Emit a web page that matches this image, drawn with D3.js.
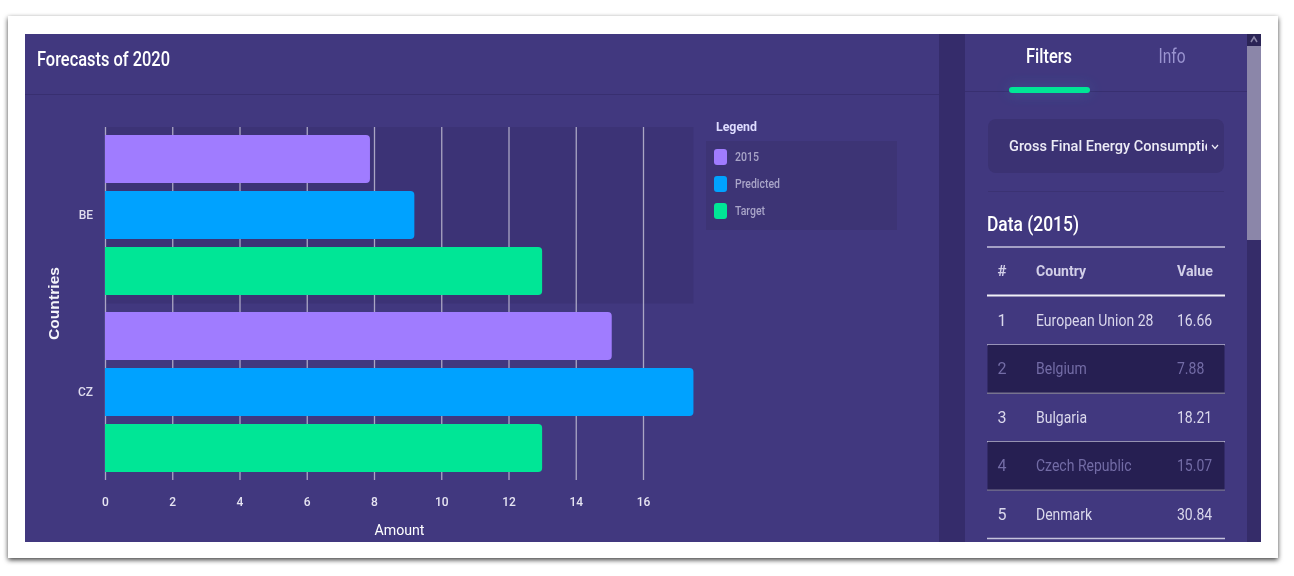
<!DOCTYPE html>
<html>
<head>
<meta charset="utf-8">
<script src="https://cdnjs.cloudflare.com/ajax/libs/d3/7.8.5/d3.min.js"></script>
<style>
  html, body { margin: 0; padding: 0; background: #fff; overflow: hidden; }
  svg { display: block; font-family: Roboto, sans-serif; filter: blur(0.35px); }
</style>
</head>
<body>
<script>
var countries = ['BE', 'CZ'];
var seriesNames = ['2015', 'Predicted', 'Target'];
var seriesColors = ['#a07cff', '#00a2ff', '#00e696'];
var values2015 = [7.88, 15.07];
var valuesPredicted = [9.2, 17.5];
var valuesTarget = [13, 13];
var amountTicks = [0, 2, 4, 6, 8, 10, 12, 14, 16];

var rowNumbers = [1, 2, 3, 4, 5];
var rowCountries = ['European Union 28', 'Belgium', 'Bulgaria', 'Czech Republic', 'Denmark'];
var rowValues = ['16.66', '7.88', '18.21', '15.07', '30.84'];
var rowSelected = [false, true, false, true, false];

var seriesValues = [values2015, valuesPredicted, valuesTarget];
var panelColor = '#41387f';

var svg = d3.select('body').append('svg')
  .attr('width', 1294)
  .attr('height', 576);

//soft shadow around the pasted screenshot frame
var defs = svg.append('defs');
var shadow = defs.append('filter').attr('id', 'frameShadow')
  .attr('x', '-2%').attr('y', '-4%').attr('width', '104%').attr('height', '108%');
shadow.append('feDropShadow')
  .attr('dx', 0).attr('dy', 2).attr('stdDeviation', 2.5)
  .attr('flood-color', '#000').attr('flood-opacity', 0.75);
var glow = defs.append('filter').attr('id', 'tabGlow')
  .attr('x', '-30%').attr('y', '-400%').attr('width', '160%').attr('height', '900%');
glow.append('feGaussianBlur').attr('stdDeviation', 7);

svg.append('rect')
  .attr('x', 8).attr('y', 16).attr('width', 1270).attr('height', 542)
  .attr('fill', '#fff').attr('filter', 'url(#frameShadow)');

svg.append('rect')
  .attr('x', 25).attr('y', 34).attr('width', 1236).attr('height', 508)
  .attr('fill', panelColor);

//writes a text squeezed to a known width (the source font is narrower than ours)
var label = function(parent, str, x, y, size, color, width, anchor, weight){
  var t = parent.append('text')
    .attr('x', x).attr('y', y)
    .attr('font-size', size)
    .attr('fill', color)
    .attr('text-anchor', anchor || 'start')
    .attr('font-weight', weight || 400)
    .text(str);
  if(width){
    t.attr('textLength', width).attr('lengthAdjust', 'spacingAndGlyphs');
  }
  return t;
}

// ---- chart side ----
label(svg, 'Forecasts of 2020', 37, 66, 19.5, '#fff', 133, 'start', 500);
svg.append('line')
  .attr('x1', 25).attr('x2', 939).attr('y1', 94.5).attr('y2', 94.5)
  .attr('stroke', '#382f70');

var x = d3.scaleLinear().domain([0, 16]).range([105, 643]);
var y0 = d3.scaleBand().domain(countries).range([127, 480]);
var y1 = d3.scaleBand().domain(seriesNames)
  .range([0, y0.bandwidth()]).paddingInner(0.145).paddingOuter(0.145);

//darker hover band behind the first country
svg.append('rect')
  .attr('x', x(0)).attr('y', y0('BE'))
  .attr('width', x(17.5) - x(0)).attr('height', y0.bandwidth())
  .attr('fill', '#3c3376');

var xAxis = svg.append('g')
  .attr('transform', 'translate(0,480)')
  .call(d3.axisBottom(x).tickValues(amountTicks).tickSize(-353).tickPadding(17));
xAxis.select('.domain').remove();
xAxis.selectAll('line').attr('stroke', '#aaa6c4').attr('stroke-width', 1.3);
xAxis.selectAll('text')
  .attr('fill', '#e6e4f2').attr('font-size', 12).attr('font-weight', 500).attr('font-family', 'Roboto');

var yAxis = svg.append('g')
  .attr('transform', 'translate(93,0)')
  .call(d3.axisLeft(y0).tickSize(0).tickPadding(0));
yAxis.select('.domain').remove();
yAxis.selectAll('text')
  .attr('fill', '#dfdcee').attr('font-size', 12).attr('font-weight', 500).attr('font-family', 'Roboto');

var bars = [];
countries.forEach(function(country, c){
  seriesNames.forEach(function(name, s){
    bars.push({country: country, name: name, value: seriesValues[s][c], color: seriesColors[s]});
  });
});

//square on the left, rounded on the right
var barPath = function(d){
  var top = Math.round(y0(d.country) + y1(d.name));
  var h = Math.round(y1.bandwidth());
  var r = 4;
  var p = d3.path();
  p.moveTo(x(0), top);
  p.lineTo(x(d.value) - r, top);
  p.quadraticCurveTo(x(d.value), top, x(d.value), top + r);
  p.lineTo(x(d.value), top + h - r);
  p.quadraticCurveTo(x(d.value), top + h, x(d.value) - r, top + h);
  p.lineTo(x(0), top + h);
  p.closePath();
  return p.toString();
}

svg.selectAll('.bar')
  .data(bars)
  .enter()
  .append('path')
    .attr('class', 'bar')
    .attr('d', barPath)
    .attr('fill', function(d){ return d.color; });

label(svg, 'Amount', 399.5, 535, 15, '#fff', 50, 'middle');
svg.append('text')
  .attr('transform', 'translate(59,303.5) rotate(-90)')
  .attr('text-anchor', 'middle')
  .attr('font-family', 'Liberation Sans')
  .attr('font-size', 15.5)
  .attr('font-weight', 700)
  .attr('fill', '#f4f3fa')
  .attr('textLength', 73)
  .text('Countries');

// ---- legend ----
label(svg, 'Legend', 716, 131, 13.5, '#dedcff', 41, 'start', 700);
svg.append('rect')
  .attr('x', 706).attr('y', 141).attr('width', 191).attr('height', 89)
  .attr('fill', '#3d3475');

var legendY = d3.scalePoint().domain(seriesNames).range([157, 211]);
var legendRows = svg.selectAll('.legend-row')
  .data(seriesNames)
  .enter()
  .append('g')
    .attr('class', 'legend-row')
    .attr('transform', function(d){ return 'translate(0,' + legendY(d) + ')'; });
legendRows.append('rect')
  .attr('x', 714).attr('y', -8).attr('width', 13).attr('height', 16).attr('rx', 3)
  .attr('fill', function(d, i){ return seriesColors[i]; });
legendRows.append('text')
  .attr('x', 735).attr('y', 4)
  .attr('font-size', 12)
  .attr('font-weight', 500)
  .attr('fill', '#a9a5c8')
  .text(function(d){ return d; })
  .attr('textLength', function(d){ return d === '2015' ? 24 : d === 'Predicted' ? 45 : 30; })
  .attr('lengthAdjust', 'spacingAndGlyphs');

// ---- sidebar ----
svg.append('rect')
  .attr('x', 939).attr('y', 34).attr('width', 26).attr('height', 508)
  .attr('fill', '#352c6b');
svg.append('rect')
  .attr('x', 1247).attr('y', 34).attr('width', 14).attr('height', 508)
  .attr('fill', '#352c69');
svg.append('rect')
  .attr('x', 1247).attr('y', 34).attr('width', 14).attr('height', 12)
  .attr('fill', '#2b2456');
svg.append('rect')
  .attr('x', 1247).attr('y', 46).attr('width', 14).attr('height', 194)
  .attr('fill', '#8b86a9');
svg.append('path')
  .attr('d', d3.line()([[1251, 42], [1254, 37], [1257, 42]]))
  .attr('fill', 'none').attr('stroke', '#8b86a9').attr('stroke-width', 1.5);

svg.append('line')
  .attr('x1', 965).attr('x2', 1247).attr('y1', 91.5).attr('y2', 91.5)
  .attr('stroke', '#382f70');
label(svg, 'Filters', 1049, 63, 19.5, '#fff', 46, 'middle', 500);
label(svg, 'Info', 1172, 63, 19.5, '#9a94d0', 27, 'middle');

svg.append('rect')
  .attr('x', 1009).attr('y', 87).attr('width', 81).attr('height', 6).attr('rx', 3)
  .attr('fill', '#2f7fb0').attr('opacity', 0.45).attr('filter', 'url(#tabGlow)');
svg.append('rect')
  .attr('x', 1009).attr('y', 87).attr('width', 81).attr('height', 6).attr('rx', 3)
  .attr('fill', '#00e696');

svg.append('rect')
  .attr('x', 988).attr('y', 119).attr('width', 236).attr('height', 54).attr('rx', 8)
  .attr('fill', '#3b3273');
//select text is cut off by the control, as in the original
defs.append('clipPath').attr('id', 'selectClip')
  .append('rect').attr('x', 1000).attr('y', 125).attr('width', 207).attr('height', 40);
svg.append('g').attr('clip-path', 'url(#selectClip)')
  .call(function(g){ label(g, 'Gross Final Energy Consumption', 1009, 151, 15, '#ecebf6', 212, 'start', 500); });
svg.append('path')
  .attr('d', d3.line()([[1212, 145], [1215, 148.5], [1218, 145]]))
  .attr('fill', 'none').attr('stroke', '#ecebf6').attr('stroke-width', 1.2);
svg.append('line')
  .attr('x1', 988).attr('x2', 1224).attr('y1', 191.5).attr('y2', 191.5)
  .attr('stroke', '#3b3273');

label(svg, 'Data (2015)', 987, 231, 21, '#fff', 92, 'start', 500);
svg.append('line')
  .attr('x1', 987).attr('x2', 1225).attr('y1', 247).attr('y2', 247)
  .attr('stroke', '#c6c3dc').attr('stroke-width', 1.3);
label(svg, '#', 1002, 276, 15, '#d2cfe8', 9, 'middle', 700);
label(svg, 'Country', 1036, 276, 15, '#d2cfe8', 50, 'start', 700);
label(svg, 'Value', 1177, 276, 15, '#d2cfe8', 36, 'start', 700);
svg.append('line')
  .attr('x1', 987).attr('x2', 1225).attr('y1', 295.5).attr('y2', 295.5)
  .attr('stroke', '#f1f0f7').attr('stroke-width', 2);

var rowY = d3.scaleBand().domain(rowNumbers).range([296.5, 538.5]);
var rows = svg.selectAll('.row')
  .data(rowNumbers)
  .enter()
  .append('g')
    .attr('class', 'row')
    .attr('transform', function(d){ return 'translate(0,' + rowY(d) + ')'; });
rows.append('rect')
  .attr('x', 987.5).attr('width', 237).attr('height', rowY.bandwidth())
  .attr('fill', function(d, i){ return rowSelected[i] ? '#261f52' : 'none'; });
rows.append('line')
  .attr('x1', 987).attr('x2', 1225)
  .attr('y1', rowY.bandwidth()).attr('y2', rowY.bandwidth())
  .attr('stroke', function(d, i){ return rowSelected[i] ? '#77738f' : '#c6c3dc'; })
  .attr('stroke-width', 1.4);

var rowColor = function(d, i){ return rowSelected[i] ? '#736ca6' : '#dad8ec'; };
rows.append('text')
  .attr('x', 1002).attr('y', 29.5).attr('text-anchor', 'middle').attr('font-size', 16)
  .attr('fill', rowColor)
  .text(function(d){ return d; });

//source font is narrower than Roboto, so squeeze each cell by the same ratio
var squeeze = function(){
  this.setAttribute('textLength', this.getComputedTextLength() * 0.875);
  this.setAttribute('lengthAdjust', 'spacingAndGlyphs');
};
rows.append('text')
  .attr('x', 1036).attr('y', 29.5).attr('font-size', 16)
  .attr('fill', rowColor)
  .text(function(d, i){ return rowCountries[i]; })
  .each(squeeze);
rows.append('text')
  .attr('x', 1177).attr('y', 29.5).attr('font-size', 16)
  .attr('fill', rowColor)
  .text(function(d, i){ return rowValues[i]; })
  .each(squeeze);
</script>
</body>
</html>
